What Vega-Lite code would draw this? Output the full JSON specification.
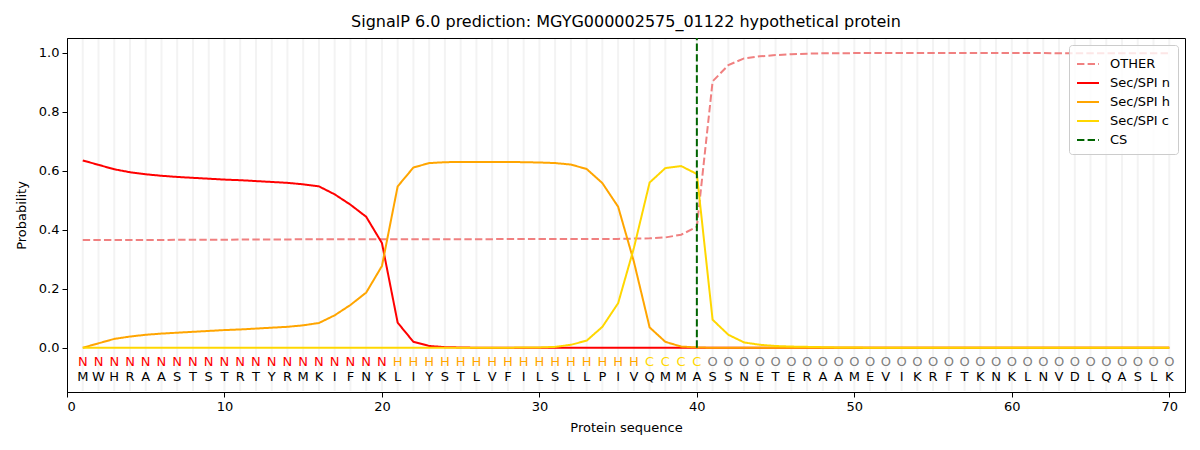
{
  "$schema": "https://vega.github.io/schema/vega-lite/v6.json",
  "autosize": {"type": "none"},
  "padding": {"left": 67, "top": 38, "right": 15, "bottom": 58},
  "width": 1118,
  "height": 354,
  "title": {
    "text": "SignalP 6.0 prediction: MGYG000002575_01122 hypothetical protein",
    "fontSize": 16,
    "fontWeight": "normal",
    "font": "DejaVu Sans",
    "color": "black",
    "offset": 8
  },
  "config": {
    "font": "DejaVu Sans",
    "view": {"stroke": "black", "strokeWidth": 1},
    "axis": {
      "domainColor": "black",
      "tickColor": "black",
      "labelColor": "black",
      "titleColor": "black",
      "labelFontSize": 13,
      "titleFontSize": 13,
      "titleFontWeight": "normal",
      "tickSize": 5,
      "labelPadding": 3,
      "grid": false
    },
    "legend": {
      "orient": "top-right",
      "offset": 7,
      "title": null,
      "labelFontSize": 13,
      "labelColor": "black",
      "labelOffset": 10,
      "symbolType": "stroke",
      "symbolSize": 484,
      "symbolStrokeWidth": 2,
      "rowPadding": 0,
      "padding": 7,
      "fillColor": "rgba(255,255,255,0.8)",
      "strokeColor": "#cccccc",
      "cornerRadius": 3
    }
  },
  "data": {
    "values": [
      {"pos": 1, "aa": "M", "lab": "N", "OTHER": 0.365, "Sec/SPI n": 0.635, "Sec/SPI h": 0.000, "Sec/SPI c": 0.000},
      {"pos": 2, "aa": "W", "lab": "N", "OTHER": 0.365, "Sec/SPI n": 0.620, "Sec/SPI h": 0.015, "Sec/SPI c": 0.000},
      {"pos": 3, "aa": "H", "lab": "N", "OTHER": 0.365, "Sec/SPI n": 0.605, "Sec/SPI h": 0.030, "Sec/SPI c": 0.000},
      {"pos": 4, "aa": "R", "lab": "N", "OTHER": 0.365, "Sec/SPI n": 0.595, "Sec/SPI h": 0.038, "Sec/SPI c": 0.000},
      {"pos": 5, "aa": "A", "lab": "N", "OTHER": 0.365, "Sec/SPI n": 0.588, "Sec/SPI h": 0.044, "Sec/SPI c": 0.000},
      {"pos": 6, "aa": "A", "lab": "N", "OTHER": 0.365, "Sec/SPI n": 0.583, "Sec/SPI h": 0.048, "Sec/SPI c": 0.000},
      {"pos": 7, "aa": "S", "lab": "N", "OTHER": 0.366, "Sec/SPI n": 0.579, "Sec/SPI h": 0.051, "Sec/SPI c": 0.000},
      {"pos": 8, "aa": "T", "lab": "N", "OTHER": 0.366, "Sec/SPI n": 0.576, "Sec/SPI h": 0.054, "Sec/SPI c": 0.000},
      {"pos": 9, "aa": "S", "lab": "N", "OTHER": 0.366, "Sec/SPI n": 0.573, "Sec/SPI h": 0.057, "Sec/SPI c": 0.000},
      {"pos": 10, "aa": "T", "lab": "N", "OTHER": 0.366, "Sec/SPI n": 0.570, "Sec/SPI h": 0.060, "Sec/SPI c": 0.000},
      {"pos": 11, "aa": "R", "lab": "N", "OTHER": 0.367, "Sec/SPI n": 0.568, "Sec/SPI h": 0.062, "Sec/SPI c": 0.000},
      {"pos": 12, "aa": "T", "lab": "N", "OTHER": 0.367, "Sec/SPI n": 0.565, "Sec/SPI h": 0.065, "Sec/SPI c": 0.000},
      {"pos": 13, "aa": "Y", "lab": "N", "OTHER": 0.367, "Sec/SPI n": 0.562, "Sec/SPI h": 0.068, "Sec/SPI c": 0.000},
      {"pos": 14, "aa": "R", "lab": "N", "OTHER": 0.367, "Sec/SPI n": 0.559, "Sec/SPI h": 0.071, "Sec/SPI c": 0.000},
      {"pos": 15, "aa": "M", "lab": "N", "OTHER": 0.368, "Sec/SPI n": 0.554, "Sec/SPI h": 0.076, "Sec/SPI c": 0.000},
      {"pos": 16, "aa": "K", "lab": "N", "OTHER": 0.368, "Sec/SPI n": 0.547, "Sec/SPI h": 0.084, "Sec/SPI c": 0.000},
      {"pos": 17, "aa": "I", "lab": "N", "OTHER": 0.368, "Sec/SPI n": 0.520, "Sec/SPI h": 0.110, "Sec/SPI c": 0.000},
      {"pos": 18, "aa": "F", "lab": "N", "OTHER": 0.368, "Sec/SPI n": 0.485, "Sec/SPI h": 0.145, "Sec/SPI c": 0.000},
      {"pos": 19, "aa": "N", "lab": "N", "OTHER": 0.368, "Sec/SPI n": 0.444, "Sec/SPI h": 0.187, "Sec/SPI c": 0.000},
      {"pos": 20, "aa": "K", "lab": "N", "OTHER": 0.368, "Sec/SPI n": 0.355, "Sec/SPI h": 0.277, "Sec/SPI c": 0.000},
      {"pos": 21, "aa": "L", "lab": "H", "OTHER": 0.368, "Sec/SPI n": 0.085, "Sec/SPI h": 0.547, "Sec/SPI c": 0.000},
      {"pos": 22, "aa": "I", "lab": "H", "OTHER": 0.368, "Sec/SPI n": 0.020, "Sec/SPI h": 0.611, "Sec/SPI c": 0.000},
      {"pos": 23, "aa": "Y", "lab": "H", "OTHER": 0.368, "Sec/SPI n": 0.006, "Sec/SPI h": 0.626, "Sec/SPI c": 0.000},
      {"pos": 24, "aa": "S", "lab": "H", "OTHER": 0.368, "Sec/SPI n": 0.002, "Sec/SPI h": 0.629, "Sec/SPI c": 0.000},
      {"pos": 25, "aa": "T", "lab": "H", "OTHER": 0.368, "Sec/SPI n": 0.001, "Sec/SPI h": 0.630, "Sec/SPI c": 0.000},
      {"pos": 26, "aa": "L", "lab": "H", "OTHER": 0.368, "Sec/SPI n": 0.000, "Sec/SPI h": 0.630, "Sec/SPI c": 0.000},
      {"pos": 27, "aa": "V", "lab": "H", "OTHER": 0.368, "Sec/SPI n": 0.000, "Sec/SPI h": 0.630, "Sec/SPI c": 0.000},
      {"pos": 28, "aa": "F", "lab": "H", "OTHER": 0.369, "Sec/SPI n": 0.000, "Sec/SPI h": 0.630, "Sec/SPI c": 0.000},
      {"pos": 29, "aa": "I", "lab": "H", "OTHER": 0.369, "Sec/SPI n": 0.000, "Sec/SPI h": 0.629, "Sec/SPI c": 0.001},
      {"pos": 30, "aa": "L", "lab": "H", "OTHER": 0.369, "Sec/SPI n": 0.000, "Sec/SPI h": 0.628, "Sec/SPI c": 0.001},
      {"pos": 31, "aa": "S", "lab": "H", "OTHER": 0.369, "Sec/SPI n": 0.000, "Sec/SPI h": 0.626, "Sec/SPI c": 0.003},
      {"pos": 32, "aa": "L", "lab": "H", "OTHER": 0.369, "Sec/SPI n": 0.000, "Sec/SPI h": 0.621, "Sec/SPI c": 0.010},
      {"pos": 33, "aa": "L", "lab": "H", "OTHER": 0.369, "Sec/SPI n": 0.000, "Sec/SPI h": 0.606, "Sec/SPI c": 0.024},
      {"pos": 34, "aa": "P", "lab": "H", "OTHER": 0.369, "Sec/SPI n": 0.000, "Sec/SPI h": 0.558, "Sec/SPI c": 0.071},
      {"pos": 35, "aa": "I", "lab": "H", "OTHER": 0.369, "Sec/SPI n": 0.000, "Sec/SPI h": 0.478, "Sec/SPI c": 0.151},
      {"pos": 36, "aa": "V", "lab": "H", "OTHER": 0.370, "Sec/SPI n": 0.000, "Sec/SPI h": 0.292, "Sec/SPI c": 0.338},
      {"pos": 37, "aa": "Q", "lab": "C", "OTHER": 0.371, "Sec/SPI n": 0.000, "Sec/SPI h": 0.069, "Sec/SPI c": 0.560},
      {"pos": 38, "aa": "M", "lab": "C", "OTHER": 0.374, "Sec/SPI n": 0.000, "Sec/SPI h": 0.020, "Sec/SPI c": 0.609},
      {"pos": 39, "aa": "M", "lab": "C", "OTHER": 0.383, "Sec/SPI n": 0.000, "Sec/SPI h": 0.004, "Sec/SPI c": 0.616},
      {"pos": 40, "aa": "A", "lab": "C", "OTHER": 0.410, "Sec/SPI n": 0.000, "Sec/SPI h": 0.001, "Sec/SPI c": 0.589},
      {"pos": 41, "aa": "S", "lab": "O", "OTHER": 0.903, "Sec/SPI n": 0.000, "Sec/SPI h": 0.000, "Sec/SPI c": 0.095},
      {"pos": 42, "aa": "S", "lab": "O", "OTHER": 0.958, "Sec/SPI n": 0.000, "Sec/SPI h": 0.000, "Sec/SPI c": 0.044},
      {"pos": 43, "aa": "N", "lab": "O", "OTHER": 0.981, "Sec/SPI n": 0.000, "Sec/SPI h": 0.000, "Sec/SPI c": 0.018},
      {"pos": 44, "aa": "E", "lab": "O", "OTHER": 0.988, "Sec/SPI n": 0.000, "Sec/SPI h": 0.000, "Sec/SPI c": 0.010},
      {"pos": 45, "aa": "T", "lab": "O", "OTHER": 0.992, "Sec/SPI n": 0.000, "Sec/SPI h": 0.000, "Sec/SPI c": 0.006},
      {"pos": 46, "aa": "E", "lab": "O", "OTHER": 0.995, "Sec/SPI n": 0.000, "Sec/SPI h": 0.000, "Sec/SPI c": 0.004},
      {"pos": 47, "aa": "R", "lab": "O", "OTHER": 0.997, "Sec/SPI n": 0.000, "Sec/SPI h": 0.000, "Sec/SPI c": 0.003},
      {"pos": 48, "aa": "A", "lab": "O", "OTHER": 0.998, "Sec/SPI n": 0.000, "Sec/SPI h": 0.000, "Sec/SPI c": 0.002},
      {"pos": 49, "aa": "A", "lab": "O", "OTHER": 0.998, "Sec/SPI n": 0.000, "Sec/SPI h": 0.000, "Sec/SPI c": 0.001},
      {"pos": 50, "aa": "M", "lab": "O", "OTHER": 0.999, "Sec/SPI n": 0.000, "Sec/SPI h": 0.000, "Sec/SPI c": 0.001},
      {"pos": 51, "aa": "E", "lab": "O", "OTHER": 0.999, "Sec/SPI n": 0.000, "Sec/SPI h": 0.000, "Sec/SPI c": 0.000},
      {"pos": 52, "aa": "V", "lab": "O", "OTHER": 0.999, "Sec/SPI n": 0.000, "Sec/SPI h": 0.000, "Sec/SPI c": 0.000},
      {"pos": 53, "aa": "I", "lab": "O", "OTHER": 0.999, "Sec/SPI n": 0.000, "Sec/SPI h": 0.000, "Sec/SPI c": 0.000},
      {"pos": 54, "aa": "K", "lab": "O", "OTHER": 0.999, "Sec/SPI n": 0.000, "Sec/SPI h": 0.000, "Sec/SPI c": 0.000},
      {"pos": 55, "aa": "R", "lab": "O", "OTHER": 0.999, "Sec/SPI n": 0.000, "Sec/SPI h": 0.000, "Sec/SPI c": 0.000},
      {"pos": 56, "aa": "F", "lab": "O", "OTHER": 0.999, "Sec/SPI n": 0.000, "Sec/SPI h": 0.000, "Sec/SPI c": 0.000},
      {"pos": 57, "aa": "T", "lab": "O", "OTHER": 0.999, "Sec/SPI n": 0.000, "Sec/SPI h": 0.000, "Sec/SPI c": 0.000},
      {"pos": 58, "aa": "K", "lab": "O", "OTHER": 0.999, "Sec/SPI n": 0.000, "Sec/SPI h": 0.000, "Sec/SPI c": 0.000},
      {"pos": 59, "aa": "N", "lab": "O", "OTHER": 0.999, "Sec/SPI n": 0.000, "Sec/SPI h": 0.000, "Sec/SPI c": 0.000},
      {"pos": 60, "aa": "K", "lab": "O", "OTHER": 0.999, "Sec/SPI n": 0.000, "Sec/SPI h": 0.000, "Sec/SPI c": 0.000},
      {"pos": 61, "aa": "L", "lab": "O", "OTHER": 0.999, "Sec/SPI n": 0.000, "Sec/SPI h": 0.000, "Sec/SPI c": 0.000},
      {"pos": 62, "aa": "N", "lab": "O", "OTHER": 0.999, "Sec/SPI n": 0.000, "Sec/SPI h": 0.000, "Sec/SPI c": 0.000},
      {"pos": 63, "aa": "V", "lab": "O", "OTHER": 0.998, "Sec/SPI n": 0.000, "Sec/SPI h": 0.000, "Sec/SPI c": 0.000},
      {"pos": 64, "aa": "D", "lab": "O", "OTHER": 0.998, "Sec/SPI n": 0.000, "Sec/SPI h": 0.000, "Sec/SPI c": 0.000},
      {"pos": 65, "aa": "L", "lab": "O", "OTHER": 0.998, "Sec/SPI n": 0.000, "Sec/SPI h": 0.000, "Sec/SPI c": 0.000},
      {"pos": 66, "aa": "Q", "lab": "O", "OTHER": 0.998, "Sec/SPI n": 0.000, "Sec/SPI h": 0.000, "Sec/SPI c": 0.000},
      {"pos": 67, "aa": "A", "lab": "O", "OTHER": 0.998, "Sec/SPI n": 0.000, "Sec/SPI h": 0.000, "Sec/SPI c": 0.000},
      {"pos": 68, "aa": "S", "lab": "O", "OTHER": 0.998, "Sec/SPI n": 0.000, "Sec/SPI h": 0.000, "Sec/SPI c": 0.000},
      {"pos": 69, "aa": "L", "lab": "O", "OTHER": 0.998, "Sec/SPI n": 0.000, "Sec/SPI h": 0.000, "Sec/SPI c": 0.000},
      {"pos": 70, "aa": "K", "lab": "O", "OTHER": 0.998, "Sec/SPI n": 0.000, "Sec/SPI h": 0.000, "Sec/SPI c": 0.000}
    ]
  },
  "encoding": {
    "x": {
      "field": "pos",
      "type": "quantitative",
      "scale": {"domain": [0, 71], "nice": false, "zero": false},
      "axis": {"title": "Protein sequence", "values": [0, 10, 20, 30, 40, 50, 60, 70], "titlePadding": 8}
    }
  },
  "layer": [
    {
      "mark": {"type": "rule", "color": "#f3f3f3", "strokeWidth": 2},
      "encoding": {
        "y": {"datum": -0.147, "type": "quantitative"},
        "y2": {"datum": 1.047}
      }
    },
    {
      "transform": [
        {"fold": ["OTHER", "Sec/SPI n", "Sec/SPI h", "Sec/SPI c"], "as": ["series", "p"]}
      ],
      "mark": {"type": "line", "strokeWidth": 2, "clip": true},
      "encoding": {
        "y": {
          "field": "p",
          "type": "quantitative",
          "scale": {"domain": [-0.15, 1.05], "nice": false, "zero": false},
          "axis": {"title": "Probability", "values": [0, 0.2, 0.4, 0.6, 0.8, 1.0], "format": ".1f", "titlePadding": 10}
        },
        "color": {
          "field": "series",
          "type": "nominal",
          "scale": {
            "domain": ["OTHER", "Sec/SPI n", "Sec/SPI h", "Sec/SPI c", "CS"],
            "range": ["#f08080", "#ff0000", "#ffa500", "#ffd700", "#006400"]
          }
        },
        "strokeDash": {
          "field": "series",
          "type": "nominal",
          "scale": {
            "domain": ["OTHER", "Sec/SPI n", "Sec/SPI h", "Sec/SPI c", "CS"],
            "range": [[7.4, 3.2], [1, 0], [1, 0], [1, 0], [7.4, 3.2]]
          }
        },
        "order": {"field": "pos", "type": "quantitative"}
      }
    },
    {
      "data": {
        "values": [
          {"pos": 40, "series": "CS", "p": 0},
          {"pos": 40, "series": "CS", "p": 1.05}
        ]
      },
      "mark": {"type": "line", "strokeWidth": 2, "clip": true},
      "encoding": {
        "y": {"field": "p", "type": "quantitative"},
        "color": {"field": "series", "type": "nominal"},
        "strokeDash": {"field": "series", "type": "nominal"}
      }
    },
    {
      "mark": {"type": "text", "fontSize": 13, "baseline": "middle", "align": "center"},
      "encoding": {
        "y": {"datum": -0.047, "type": "quantitative"},
        "text": {"field": "lab"},
        "fill": {
          "field": "lab",
          "type": "nominal",
          "scale": {"domain": ["N", "H", "C", "O"], "range": ["#ff0000", "#ffa500", "#ffd700", "#808080"]},
          "legend": null
        }
      }
    },
    {
      "mark": {"type": "text", "fontSize": 13, "baseline": "middle", "align": "center", "color": "black"},
      "encoding": {
        "y": {"datum": -0.1, "type": "quantitative"},
        "text": {"field": "aa"}
      }
    }
  ]
}
